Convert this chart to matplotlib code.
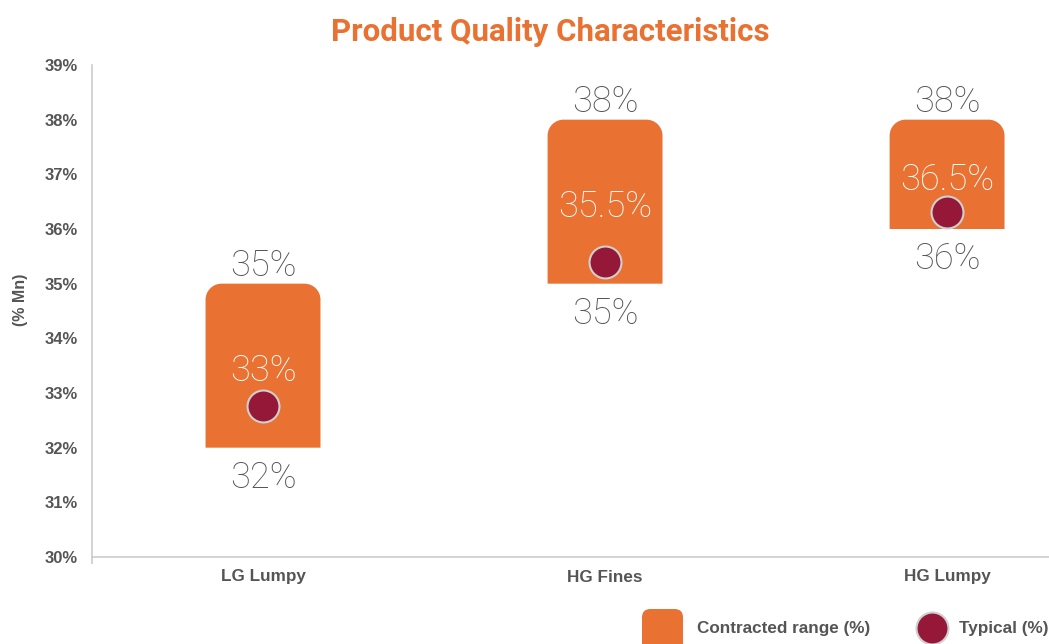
import matplotlib
matplotlib.use("Agg")
from matplotlib import pyplot as plt
from matplotlib.patches import FancyBboxPatch, PathPatch
from matplotlib.path import Path
from matplotlib.lines import Line2D

# data
products = ["LG Lumpy", "HG Fines", "HG Lumpy"]
range_low = [32, 35, 36]
range_high = [35, 38, 38]
typical = [32.76, 35.4, 36.31]          # where the dots sit
typical_labels = ["33%", "35.5%", "36.5%"]
low_labels = ["32%", "35%", "36%"]
high_labels = ["35%", "38%", "38%"]
yticks = list(range(30, 40))

ORANGE = "#E97131"
DOT = "#961838"
GREY = "#555555"
LIGHT = ["Roboto", "DejaVu Sans"]
plt.rcParams["font.family"] = ["Liberation Sans", "DejaVu Sans"]

W, H = 1049, 644
fig = plt.figure(figsize=(W / 100, H / 100), dpi=100)
ax = fig.add_axes([92 / W, (H - 557) / H, 1 - 92 / W, (557 - 65) / H])
ax.set_xlim(-0.5, 2.298)
ax.set_ylim(30, 39)

bar_w = 0.336
x_unit = 342.0
y_unit = (557 - 65) / 9.0
rx = 16 / x_unit
ry = 16 / y_unit
k = 0.5523


def top_rounded(x0, x1, y0, y1):
    verts = [(x0, y0), (x0, y1 - ry),
             (x0, y1 - ry + k * ry), (x0 + rx - k * rx, y1), (x0 + rx, y1),
             (x1 - rx, y1),
             (x1 - rx + k * rx, y1), (x1, y1 - ry + k * ry), (x1, y1 - ry),
             (x1, y0), (x0, y0)]
    codes = [Path.MOVETO, Path.LINETO,
             Path.CURVE4, Path.CURVE4, Path.CURVE4,
             Path.LINETO,
             Path.CURVE4, Path.CURVE4, Path.CURVE4,
             Path.LINETO, Path.CLOSEPOLY]
    return Path(verts, codes)


for i, name in enumerate(products):
    lo, hi = range_low[i], range_high[i]
    ax.add_patch(PathPatch(top_rounded(i - bar_w / 2, i + bar_w / 2, lo, hi),
                           fc=ORANGE, ec="none", zorder=2))
    ax.plot(i, typical[i], "o", ms=23, mfc=DOT, mec="#cfcfcf", mew=1.5, zorder=4)
    ax.text(i, hi + 0.14, high_labels[i], ha="center", va="baseline", fontsize=26,
            color=GREY, family=LIGHT, fontweight="light")
    ax.text(i, lo - 0.74, low_labels[i], ha="center", va="baseline", fontsize=26,
            color=GREY, family=LIGHT, fontweight="light")
    ax.text(i, (lo + hi) / 2 - 0.28, typical_labels[i], ha="center", va="baseline",
            fontsize=26, color="white", family=LIGHT, fontweight="light", zorder=5)

ax.set_yticks(yticks)
ax.set_yticklabels(["%d%%" % t for t in yticks])
ax.set_xticks(range(len(products)))
ax.set_xticklabels(products)
ax.tick_params(axis="y", length=0, pad=10, labelsize=12, labelcolor=GREY)
ax.tick_params(axis="x", length=0, pad=9, labelsize=12.3, labelcolor=GREY)
for lab in ax.get_xticklabels() + ax.get_yticklabels():
    lab.set_fontweight("bold")
ax.set_xticks([-0.5], minor=True)
ax.set_yticks([30], minor=True)
ax.tick_params(which="minor", length=5, color="#cccccc", width=1.2)

for s in ["top", "right"]:
    ax.spines[s].set_visible(False)
for s in ["left", "bottom"]:
    ax.spines[s].set_color("#cccccc")
    ax.spines[s].set_linewidth(1.2)

fig.text(20 / W, 1 - 300 / H, "(% Mn)", rotation=90, ha="center", va="center",
         fontsize=11.5, fontweight="bold", color=GREY)
fig.text(550 / W, 1 - 32 / H, "Product Quality Characteristics", ha="center", va="center",
         fontsize=22.5, fontweight="bold", color=ORANGE, family=["Roboto", "DejaVu Sans"])

# legend
fig.patches.append(FancyBboxPatch((642 / W, -10 / H), 41 / W, 45 / H,
                                  boxstyle="round,pad=0,rounding_size=0.008",
                                  transform=fig.transFigure, fc=ORANGE, ec="none",
                                  mutation_aspect=W / H))
fig.text(697 / W, 1 - 629 / H, "Contracted range (%)", ha="left", va="center",
         fontsize=12.3, fontweight="bold", color=GREY)
fig.lines.append(Line2D([932 / W], [1 - 628 / H], transform=fig.transFigure, marker="o",
                        ms=23, mfc=DOT, mec="#cfcfcf", mew=1.5))
fig.text(959 / W, 1 - 629 / H, "Typical (%)", ha="left", va="center",
         fontsize=12.3, fontweight="bold", color=GREY)

fig.savefig("out.png", dpi=100)
